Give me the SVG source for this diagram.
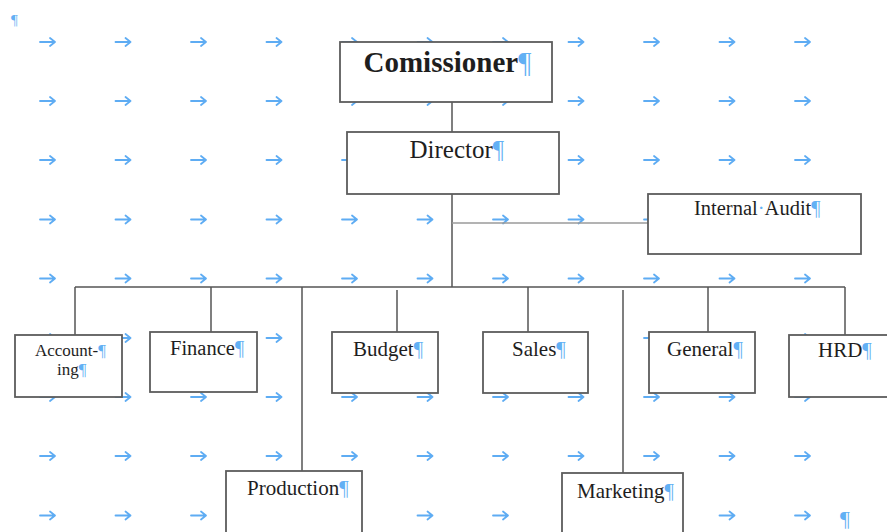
<svg xmlns="http://www.w3.org/2000/svg" xmlns:xlink="http://www.w3.org/1999/xlink" width="887" height="532" viewBox="0 0 887 532">
  <style>
    .box { fill: #ffffff; stroke: #5c5c5c; stroke-width: 1.8; }
    .lbl { font-family: "Liberation Serif", "Times New Roman", serif; fill: #1e1e1e; }
    .pil { fill: #62b0f4; }
    .tab { fill: none; stroke: #5eacf3; stroke-width: 1.8; stroke-linecap: round; stroke-linejoin: round; }
    .wire { fill: none; stroke: #555555; stroke-width: 1.5; }
    .wire-light { fill: none; stroke: #9a9a9a; stroke-width: 1.5; }
  </style>
  <defs>
    <path id="tabmark" class="tab" d="M0,0 H15 M10,-4 L15,0 L10,4"/>
    <g id="tabrow">
      <use xlink:href="#tabmark" x="40"/>
      <use xlink:href="#tabmark" x="115.5"/>
      <use xlink:href="#tabmark" x="191"/>
      <use xlink:href="#tabmark" x="266.5"/>
      <use xlink:href="#tabmark" x="342"/>
      <use xlink:href="#tabmark" x="417.5"/>
      <use xlink:href="#tabmark" x="493"/>
      <use xlink:href="#tabmark" x="568.5"/>
      <use xlink:href="#tabmark" x="644"/>
      <use xlink:href="#tabmark" x="719.5"/>
      <use xlink:href="#tabmark" x="795"/>
    </g>
  </defs>

  <rect width="887" height="532" fill="#ffffff"/>

  <!-- tab marks of the page text underneath the shapes -->
  <g id="page-marks">
    <text x="11" y="25" class="lbl pil" font-size="15">¶</text>
    <use xlink:href="#tabrow" y="42"/>
    <use xlink:href="#tabrow" y="101"/>
    <use xlink:href="#tabrow" y="160"/>
    <use xlink:href="#tabrow" y="219.5"/>
    <use xlink:href="#tabrow" y="278.5"/>
    <use xlink:href="#tabrow" y="338"/>
    <use xlink:href="#tabrow" y="397"/>
    <use xlink:href="#tabrow" y="456"/>
    <use xlink:href="#tabrow" y="515.5"/>
    <text x="840" y="526" class="lbl pil" font-size="22">¶</text>
  </g>

  <!-- connectors -->
  <g id="connectors">
    <path class="wire" d="M452,102 V132"/>
    <path class="wire" d="M452,194 V287"/>
    <path class="wire-light" d="M452,223 H648"/>
    <path class="wire" d="M75,287 H845"/>
    <path class="wire" d="M75,287 V335"/>
    <path class="wire" d="M211,287 V332"/>
    <path class="wire" d="M302,287 V471"/>
    <path class="wire" d="M397,290 V332"/>
    <path class="wire" d="M528,287 V332"/>
    <path class="wire" d="M623,290 V473"/>
    <path class="wire" d="M708,287 V332"/>
    <path class="wire" d="M845,287 V335"/>
  </g>

  <g id="commissioner">
    <rect class="box" x="340" y="42" width="212" height="60"/>
    <text class="lbl" x="363.5" y="72" font-size="29" font-weight="bold">Comissioner<tspan class="pil" font-weight="normal">¶</tspan></text>
  </g>

  <g id="director">
    <rect class="box" x="347" y="132" width="212" height="62"/>
    <text class="lbl" x="409.5" y="158" font-size="25">Director<tspan class="pil">¶</tspan></text>
  </g>

  <g id="internal-audit">
    <rect class="box" x="648" y="194" width="213" height="60"/>
    <text class="lbl" x="694" y="215" font-size="20.5">Internal<tspan class="pil">·</tspan>Audit<tspan class="pil">¶</tspan></text>
  </g>

  <g id="accounting">
    <rect class="box" x="15" y="335" width="107" height="62"/>
    <text class="lbl" x="35" y="356" font-size="17">Account-<tspan class="pil">¶</tspan></text>
    <text class="lbl" x="57" y="375" font-size="17">ing<tspan class="pil">¶</tspan></text>
  </g>

  <g id="finance">
    <rect class="box" x="150" y="332" width="107" height="60"/>
    <text class="lbl" x="170" y="355" font-size="20.5">Finance<tspan class="pil">¶</tspan></text>
  </g>

  <g id="production">
    <rect class="box" x="226" y="471" width="136" height="70"/>
    <text class="lbl" x="247" y="495" font-size="21">Production<tspan class="pil">¶</tspan></text>
  </g>

  <g id="budget">
    <rect class="box" x="332" y="332" width="106" height="61"/>
    <text class="lbl" x="353" y="356" font-size="21">Budget<tspan class="pil">¶</tspan></text>
  </g>

  <g id="sales">
    <rect class="box" x="483" y="332" width="105" height="61"/>
    <text class="lbl" x="512" y="356" font-size="21">Sales<tspan class="pil">¶</tspan></text>
  </g>

  <g id="marketing">
    <rect class="box" x="562" y="473" width="121" height="70"/>
    <text class="lbl" x="577" y="498" font-size="21">Marketing<tspan class="pil">¶</tspan></text>
  </g>

  <g id="general">
    <rect class="box" x="649" y="332" width="106" height="61"/>
    <text class="lbl" x="667" y="356" font-size="21">General<tspan class="pil">¶</tspan></text>
  </g>

  <g id="hrd">
    <rect class="box" x="789" y="335" width="110" height="62"/>
    <text class="lbl" x="818" y="357" font-size="21">HRD<tspan class="pil">¶</tspan></text>
  </g>
</svg>
